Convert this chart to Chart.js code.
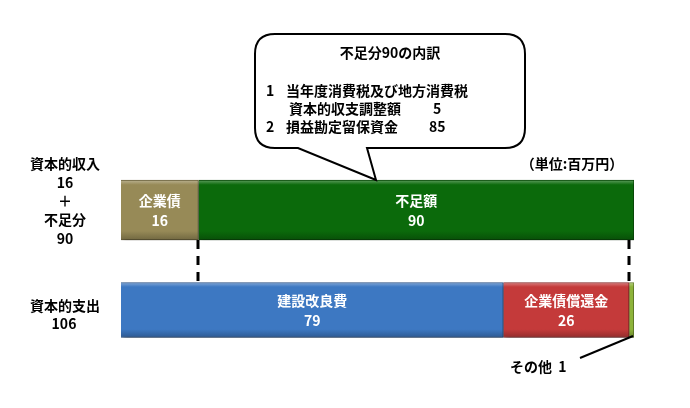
<!DOCTYPE html>
<html lang="ja">
<head>
<meta charset="utf-8">
<script src="https://cdn.jsdelivr.net/npm/chart.js@4/dist/chart.umd.min.js"></script>
<style>
  html, body { margin: 0; padding: 0; background: #fff; }
  #wrap { position: relative; width: 690px; height: 408px; font-family: "Noto Sans CJK JP", "Noto Sans", sans-serif; font-weight: bold; color: #000; }
  #wrap canvas { position: absolute; left: 0; top: 0; }
  .t { position: absolute; font-size: 14px; line-height: 16px; white-space: nowrap; }
  .c { transform: translate(-50%, -50%); text-align: center; }
  .l { transform: translateY(-50%); }
</style>
</head>
<body>
<div id="wrap">
  <canvas id="chart" width="690" height="408"></canvas>

  <div class="t c" style="left:65px;top:163px">資本的収入</div>
  <div class="t c" style="left:65px;top:182px">16</div>
  <div class="t c" style="left:65px;top:200px">＋</div>
  <div class="t c" style="left:65px;top:219px">不足分</div>
  <div class="t c" style="left:65px;top:238px">90</div>
  <div class="t c" style="left:65px;top:305px">資本的支出</div>
  <div class="t c" style="left:64px;top:323px">106</div>

  <div class="t c" style="left:572px;top:163px">（単位:百万円）</div>

  <div class="t c" style="left:390px;top:52px">不足分90の内訳</div>
  <div class="t l" style="left:266px;top:90px">1</div>
  <div class="t l" style="left:286px;top:90px">当年度消費税及び地方消費税</div>
  <div class="t l" style="left:289px;top:108px">資本的収支調整額</div>
  <div class="t l" style="left:433px;top:108px">5</div>
  <div class="t l" style="left:266px;top:126px">2</div>
  <div class="t l" style="left:286px;top:126px">損益勘定留保資金</div>
  <div class="t l" style="left:429px;top:126px">85</div>

  <div class="t l" style="left:510px;top:366px">その他&nbsp;&nbsp;1</div>
</div>

<script>
// 百万円
const rows = ["資本的収入", "資本的支出"];
const incomeLabels = ["企業債", "不足額"];
const incomeValues = [16, 90];
const spendLabels = ["建設改良費", "企業債償還金", "その他"];
const spendValues = [79, 26, 1];
const axisMax = 106;

const incomeColors = ["#978a57", "#0b6a0b"];
const spendColors = ["#3d78c2", "#c43a3a", "#8db33a"];

function shade(hex, amt) {
  const n = parseInt(hex.slice(1), 16);
  let r = (n >> 16) & 255, g = (n >> 8) & 255, b = n & 255;
  const f = v => Math.max(0, Math.min(255, Math.round(amt > 0 ? v + (255 - v) * amt : v * (1 + amt))));
  return `rgb(${f(r)},${f(g)},${f(b)})`;
}

function barFill(color, row, thick) {
  return (ctx) => {
    const chart = ctx.chart;
    const y = chart.scales.y;
    if (!y) return color;
    const cy = y.getPixelForValue(row);
    if (!isFinite(cy)) return color;
    const g = chart.ctx.createLinearGradient(0, cy - thick / 2, 0, cy + thick / 2);
    g.addColorStop(0, shade(color, 0.35));
    g.addColorStop(0.08, color);
    g.addColorStop(0.85, color);
    g.addColorStop(1, shade(color, -0.25));
    return g;
  };
}

const datasets = [];
incomeLabels.forEach((lab, i) => {
  datasets.push({
    label: lab,
    data: [incomeValues[i], null],
    backgroundColor: barFill(incomeColors[i], 0, 60),
    borderColor: shade(incomeColors[i], -0.3),
    borderWidth: 1,
    barThickness: 60,
    stack: "s"
  });
});
spendLabels.forEach((lab, i) => {
  datasets.push({
    label: lab,
    data: [null, spendValues[i]],
    backgroundColor: barFill(spendColors[i], 1, 55),
    borderColor: shade(spendColors[i], -0.3),
    borderWidth: 1,
    barThickness: 55,
    stack: "s"
  });
});

// shadows under the bars
const shadowPlugin = {
  id: "shadow",
  beforeDatasetsDraw(chart) {
    const c = chart.ctx;
    c.save();
    c.shadowColor = "rgba(0,0,0,0.35)";
    c.shadowBlur = 4;
    c.shadowOffsetX = 2;
    c.shadowOffsetY = 3;
  },
  afterDatasetsDraw(chart) {
    chart.ctx.restore();
  }
};

// text in the bars, dashed links, callout, leader line
const extras = {
  id: "extras",
  afterDatasetsDraw(chart) {
    const c = chart.ctx;
    const x = chart.scales.x, y = chart.scales.y;

    c.save();
    c.fillStyle = "#fff";
    c.textAlign = "center";
    c.textBaseline = "middle";
    c.font = "bold 14px 'Noto Sans CJK JP', sans-serif";
    chart.data.datasets.forEach((ds, di) => {
      const meta = chart.getDatasetMeta(di);
      ds.data.forEach((v, i) => {
        if (v == null || v < 5) return;
        const bar = meta.data[i];
        const cx = (bar.x + bar.base) / 2;
        c.fillText(ds.label, cx, bar.y - 9);
        c.fillText(String(v), cx, bar.y + 11);
      });
    });
    c.restore();

    const topBottom = y.getPixelForValue(0) + 30;
    const botTop = y.getPixelForValue(1) - 27.5;
    c.save();
    c.strokeStyle = "#000";
    c.lineWidth = 3;
    c.setLineDash([9, 7]);
    [incomeValues[0], spendValues[0] + spendValues[1]].forEach(v => {
      const px = Math.round(x.getPixelForValue(v));
      c.beginPath();
      c.moveTo(px, topBottom);
      c.lineTo(px, botTop);
      c.stroke();
    });
    c.restore();

    // callout bubble
    const tipX = 376, tipY = y.getPixelForValue(0) - 30;
    const L = 255, R = 525, T = 34, B = 148, rad = 20;
    c.save();
    c.fillStyle = "#fff";
    c.strokeStyle = "#000";
    c.lineWidth = 2;
    c.beginPath();
    c.moveTo(L + rad, T);
    c.lineTo(R - rad, T);
    c.quadraticCurveTo(R, T, R, T + rad);
    c.lineTo(R, B - rad);
    c.quadraticCurveTo(R, B, R - rad, B);
    c.lineTo(367, B);
    c.lineTo(tipX, tipY);
    c.lineTo(298, B);
    c.lineTo(L + rad, B);
    c.quadraticCurveTo(L, B, L, B - rad);
    c.lineTo(L, T + rad);
    c.quadraticCurveTo(L, T, L + rad, T);
    c.closePath();
    c.fill();
    c.stroke();
    c.restore();

    // leader to その他
    const endX = x.getPixelForValue(axisMax) - 1;
    const endY = y.getPixelForValue(1) + 26;
    c.save();
    c.strokeStyle = "#000";
    c.lineWidth = 2;
    c.beginPath();
    c.moveTo(580, 358);
    c.lineTo(endX, endY);
    c.stroke();
    c.restore();
  }
};

new Chart(document.getElementById("chart"), {
  type: "bar",
  data: { labels: rows, datasets: datasets },
  options: {
    indexAxis: "y",
    responsive: false,
    animation: false,
    layout: { padding: { left: 121, right: 56, top: 160, bottom: 48 } },
    scales: {
      x: { display: false, stacked: true, min: 0, max: axisMax },
      y: { display: false, stacked: true }
    },
    plugins: {
      legend: { display: false },
      tooltip: { enabled: false }
    }
  },
  plugins: [shadowPlugin, extras]
});
</script>
</body>
</html>
